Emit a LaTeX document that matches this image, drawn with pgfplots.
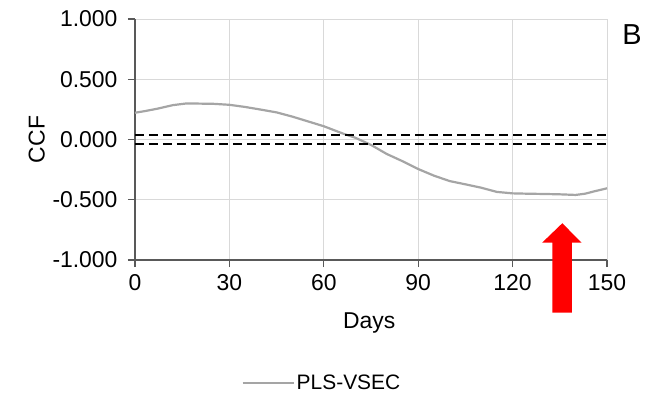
\documentclass[border=0pt]{standalone}
\usepackage{fontspec}
\setmainfont{Liberation Sans}
\usepackage{pgfplots}
\pgfplotsset{compat=1.18}
\definecolor{curvegray}{RGB}{165,165,165}
\definecolor{gridgray}{RGB}{217,217,217}
\definecolor{axgray}{RGB}{89,89,89}
\begin{document}
\begin{tikzpicture}
\begin{axis}[
  scale only axis,
  width=472bp, height=241bp,
  xmin=0, xmax=150, ymin=-1, ymax=1,
  xtick={0,30,60,90,120,150},
  ytick={-1,-0.5,0,0.5,1},
  axis x line*=bottom, axis y line*=left,
  axis line style={axgray, line width=1.1bp, -},
  tick align=outside,
  major tick length=7bp,
  tick style={axgray, line width=1.1bp},
  grid=major,
  grid style={gridgray, line width=0.9bp},
  font=\fontsize{23}{27}\selectfont,
  ticklabel style={font=\fontsize{23}{27}\selectfont},
  /pgf/number format/assume math mode=true,
  yticklabel style={xshift=-7bp, /pgf/number format/.cd, fixed, fixed zerofill, precision=3},
  xticklabel style={yshift=-4bp, /pgf/number format/.cd, fixed},
  xlabel={Days}, ylabel={CCF},
  xlabel style={at={(rel axis cs:0.496,-0.261)}, anchor=center},
  ylabel style={at={(rel axis cs:-0.208,0.5)}, anchor=center},
  clip=false,
  legend style={draw=none, fill=none, at={(0.219,-0.51)}, anchor=west,
    font=\fontsize{21}{25}\selectfont},
  legend cell align=left,
  legend image code/.code={\draw[#1] (0bp,0bp) -- (51bp,0bp);},
]
\addplot[curvegray, line width=2.2bp] coordinates {
(0,0.222)(3,0.235)(7,0.255)(12,0.285)(16,0.298)(20,0.298)(25,0.296)(30,0.288)
(35,0.27)(40,0.248)(45,0.225)(50,0.19)(55,0.15)(60,0.11)(63,0.08)(66,0.05)
(70,0.015)(75,-0.045)(80,-0.12)(85,-0.18)(90,-0.245)(95,-0.30)(100,-0.345)
(105,-0.372)(110,-0.40)(115,-0.435)(120,-0.447)(125,-0.45)(130,-0.452)
(135,-0.455)(140,-0.46)(143,-0.45)(146,-0.43)(150,-0.405)};
\addlegendentry{PLS-VSEC}
\addplot[black, line width=2.2bp, dash pattern=on 9bp off 5bp, forget plot] coordinates {(0,0.04)(150,0.04)};
\addplot[black, line width=2.2bp, dash pattern=on 9bp off 5bp, forget plot] coordinates {(0,-0.04)(150,-0.04)};
\fill[red] (axis cs:132.6,-1.437) -- (axis cs:132.6,-0.856) -- (axis cs:129.4,-0.856)
  -- (axis cs:135.8,-0.695) -- (axis cs:141.9,-0.856) -- (axis cs:138.8,-0.856)
  -- (axis cs:138.8,-1.437) -- cycle;
\node[anchor=center, font=\fontsize{29}{33}\selectfont] at (rel axis cs:1.053,0.934) {B};
\coordinate (bl) at (rel axis cs:0,0);
\end{axis}
\pgfresetboundingbox
\path[use as bounding box] (bl) ++(-135bp,-141bp) rectangle ++(649bp,401bp);
\end{tikzpicture}
\end{document}
